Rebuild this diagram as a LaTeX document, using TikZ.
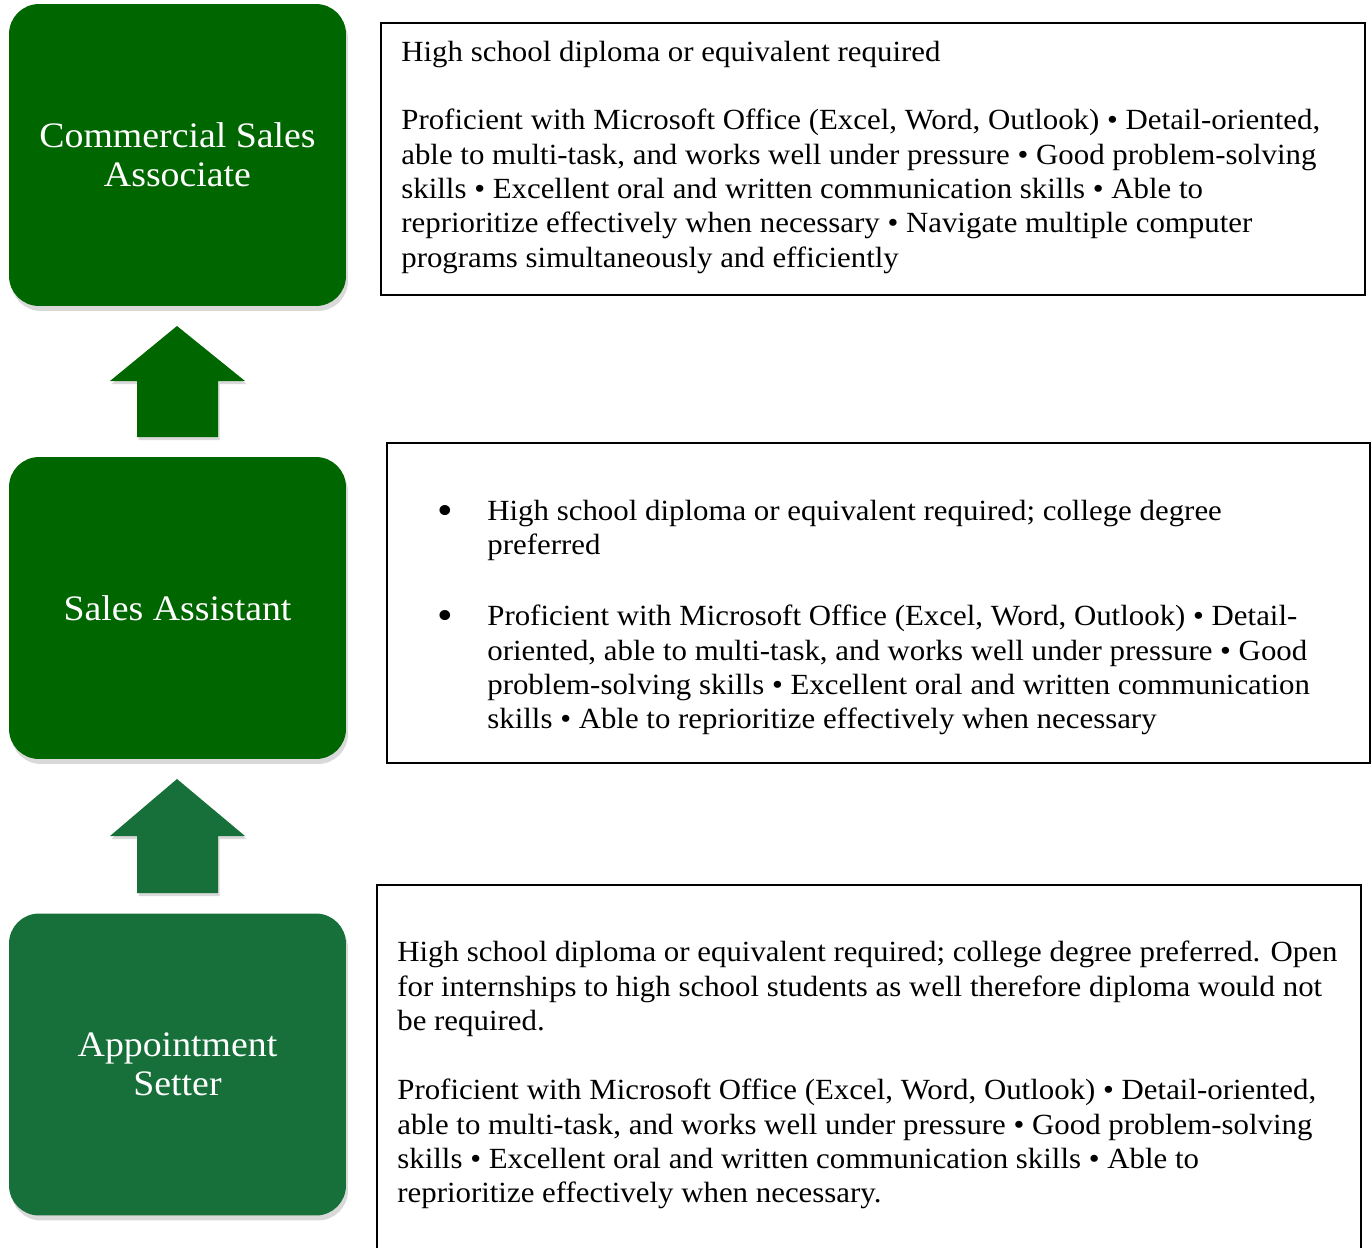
\documentclass[tikz,border=0pt]{standalone}
\usepackage{fontspec}
\setmainfont[FakeStretch=1.055]{Liberation Serif}
\usetikzlibrary{shadows}
\definecolor{rungdark}{RGB}{0,102,0}
\definecolor{rungmid}{RGB}{23,112,58}

\begin{document}
\begin{tikzpicture}[x=0.02cm, y=-0.02cm,
    rung/.style={rounded corners=0.6cm, minimum width=6.74cm, minimum height=6.04cm,
        text=white, align=center, font=\fontsize{20.4}{22.1}\selectfont,
        drop shadow={opacity=0.3, shadow xshift=0.04cm, shadow yshift=-0.1cm}},
    infobox/.style={draw, line width=0.9pt, minimum width=19.68cm},
    info/.style={anchor=north west, align=left, inner sep=0pt,
        font=\fontsize{16.65}{19.51}\selectfont, execute at begin node=\strut},
    uparrow/.style={drop shadow={opacity=0.3, shadow xshift=0.03cm, shadow yshift=-0.06cm}}]
\useasboundingbox (0, 0) rectangle (1371, 1247);

\node[rung, fill=rungdark] (assoc) at (177.5, 155) {Commercial Sales\\Associate};
\node[rung, fill=rungdark] (assist) at (177.5, 608) {Sales Assistant};
\node[rung, fill=rungmid] (setter) at (177.5, 1064.5) {Appointment\\Setter};

\fill[rungdark, uparrow]
    (177, 326) -- (245, 381) -- (218, 381) -- (218, 437) -- (137, 437) -- (137, 381) -- (110, 381) -- cycle;
\fill[rungmid, uparrow]
    (177, 779) -- (245, 836) -- (218, 836) -- (218, 893) -- (137, 893) -- (137, 836) -- (110, 836) -- cycle;

\node[infobox, minimum height=5.44cm] (assocbox) at (873, 159) {};
\node[infobox, minimum height=6.4cm, minimum width=19.66cm] (assistbox) at (878.5, 603) {};
\node[infobox, minimum height=7.5cm] (setterbox) at (869, 1072.5) {};

\node[info] (assoc1) at (401, 37) {High school diploma or equivalent required};
\node[info] (assoc2) at (401, 109) {Proficient with Microsoft Office (Excel, Word, Outlook) \textbullet\ Detail-oriented,\\
    able to multi-task, and works well under pressure \textbullet\ Good problem-solving\\
    skills \textbullet\ Excellent oral and written communication skills \textbullet\ Able to\\
    reprioritize effectively when necessary \textbullet\ Navigate multiple computer\\
    programs simultaneously and efficiently};

\node[info] (dot1) at (437, 500) {\fontsize{24}{19.51}\selectfont\textbullet};
\node[info] (assist1) at (487, 500) {High school diploma or equivalent required; college degree\\
    preferred};
\node[info] (dot2) at (437, 605) {\fontsize{24}{19.51}\selectfont\textbullet};
\node[info] (assist2) at (487, 605) {Proficient with Microsoft Office (Excel, Word, Outlook) \textbullet\ Detail-\\
    oriented, able to multi-task, and works well under pressure \textbullet\ Good\\
    problem-solving skills \textbullet\ Excellent oral and written communication\\
    skills \textbullet\ Able to reprioritize effectively when necessary};

\node[info] (setter1) at (397, 941) {High school diploma or equivalent required; college degree preferred. Open\\
    for internships to high school students as well therefore diploma would not\\
    be required.};
\node[info] (setter2) at (397, 1079) {Proficient with Microsoft Office (Excel, Word, Outlook) \textbullet\ Detail-oriented,\\
    able to multi-task, and works well under pressure \textbullet\ Good problem-solving\\
    skills \textbullet\ Excellent oral and written communication skills \textbullet\ Able to\\
    reprioritize effectively when necessary.};
\end{tikzpicture}
\end{document}
